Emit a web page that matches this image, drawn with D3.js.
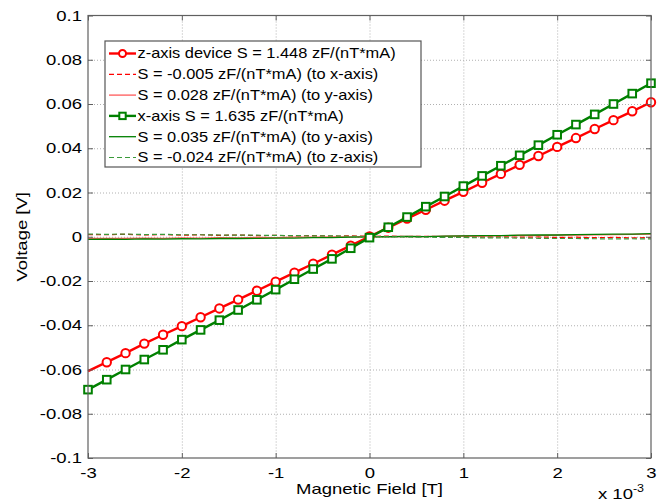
<!DOCTYPE html>
<html>
<head>
<meta charset="utf-8">
<script src="https://cdn.jsdelivr.net/npm/d3@7"></script>
<style>
  body { margin: 0; background: #fff; }
  text { font-family: "Liberation Sans", Arial, sans-serif; fill: #000;
         transform-box: fill-box; transform-origin: center; }
  .tk { font-size: 18.5px; transform: scaleY(0.8); }
  .lg { font-size: 16.4px; transform: scaleY(0.86); }
</style>
</head>
<body>
<svg width="665" height="504"></svg>
<script>
// field values, x 10^-3 T
var field = [-3, -2.8, -2.6, -2.4, -2.2, -2, -1.8, -1.6, -1.4, -1.2, -1, -0.8, -0.6, -0.4, -0.2,
             0, 0.2, 0.4, 0.6, 0.8, 1, 1.2, 1.4, 1.6, 1.8, 2, 2.2, 2.4, 2.6, 2.8, 3];

// z-axis device (red circles), voltage [V]
var zDevice = [-0.0607, -0.0567, -0.0526, -0.0483, -0.0443, -0.0404, -0.0364, -0.0324, -0.0284, -0.0244, -0.0203,
               -0.0162, -0.0122, -0.0081, -0.0040, 0.0001, 0.0041, 0.0082, 0.0122, 0.0163, 0.0203, 0.0244,
               0.0284, 0.0325, 0.0365, 0.0406, 0.0446, 0.0487, 0.0527, 0.0567, 0.0608];
// crosstalk of z device
var zToX = [0.0010, 0.0009, 0.0011, 0.0008, 0.0010, 0.0007, 0.0009, 0.0006, 0.0008, 0.0005, 0.0006, 0.0004, 0.0005, 0.0003,
            0.0004, 0.0002, 0.0003, 0.0001, 0.0002, 0.0000, 0.0001, -0.0001, 0.0000, -0.0002, -0.0001, -0.0003, -0.0002,
            -0.0004, -0.0003, -0.0005, -0.0004];
var zToY = [-0.0008, -0.0007, -0.0008, -0.0006, -0.0007, -0.0005, -0.0006, -0.0004, -0.0005, -0.0003, -0.0004, -0.0002,
            -0.0002, -0.0001, -0.0001, 0.0000, 0.0001, 0.0002, 0.0001, 0.0003, 0.0004, 0.0003, 0.0005, 0.0006, 0.0005,
            0.0007, 0.0008, 0.0009, 0.0010, 0.0011, 0.0012];

// x-axis device (green squares)
var xDevice = [-0.0691, -0.0646, -0.0600, -0.0555, -0.0511, -0.0465, -0.0421, -0.0377, -0.0331, -0.0285, -0.0239,
               -0.0192, -0.0146, -0.0100, -0.0052, -0.0004, 0.0043, 0.0089, 0.0136, 0.0182, 0.0229, 0.0275,
               0.0321, 0.0368, 0.0414, 0.0461, 0.0507, 0.0553, 0.0600, 0.0647, 0.0694];
var xToY = [-0.0012, -0.0011, -0.0012, -0.0010, -0.0011, -0.0009, -0.0010, -0.0008, -0.0008, -0.0007, -0.0006, -0.0006,
            -0.0004, -0.0004, -0.0002, -0.0001, 0.0000, 0.0002, 0.0001, 0.0003, 0.0004, 0.0005, 0.0005, 0.0007, 0.0008,
            0.0008, 0.0010, 0.0011, 0.0012, 0.0012, 0.0014];
var xToZ = [0.0012, 0.0011, 0.0012, 0.0010, 0.0011, 0.0009, 0.0009, 0.0008, 0.0007, 0.0007, 0.0006, 0.0005, 0.0004,
            0.0004, 0.0002, 0.0001, 0.0000, -0.0001, -0.0002, -0.0003, -0.0003, -0.0005, -0.0005, -0.0006, -0.0007,
            -0.0008, -0.0008, -0.0009, -0.0010, -0.0009, -0.0010];

var xTicks = [-3, -2, -1, 0, 1, 2, 3];
var xTickLabels = ["-3", "-2", "-1", "0", "1", "2", "3"];
var yTicks = [-0.1, -0.08, -0.06, -0.04, -0.02, 0, 0.02, 0.04, 0.06, 0.08, 0.1];
var yTickLabels = ["-0.1", "-0.08", "-0.06", "-0.04", "-0.02", "0", "0.02", "0.04", "0.06", "0.08", "0.1"];

var legendLabels = ["z-axis device S = 1.448 zF/(nT*mA)",
                    "S = -0.005 zF/(nT*mA) (to x-axis)",
                    "S = 0.028 zF/(nT*mA) (to y-axis)",
                    "x-axis S = 1.635 zF/(nT*mA)",
                    "S = 0.035 zF/(nT*mA) (to y-axis)",
                    "S = -0.024 zF/(nT*mA) (to z-axis)"];

var svg = d3.select("svg"),
    margin = {top: 15.5, right: 14, bottom: 46, left: 88},
    width = 665 - margin.left - margin.right,
    height = 504 - margin.top - margin.bottom,
    g = svg.append("g").attr("transform", "translate(" + margin.left + "," + margin.top + ")");

var x = d3.scaleLinear().domain([-3, 3]).range([0, width]),
    y = d3.scaleLinear().domain([-0.1, 0.1]).range([height, 0]);

// grid (dotted)
g.append("g").selectAll("line").data(xTicks.slice(1, -1)).enter().append("line")
  .attr("x1", function(d){ return x(d) + 0.5; }).attr("x2", function(d){ return x(d) + 0.5; })
  .attr("y1", 0).attr("y2", height)
  .attr("stroke", "#b0b0b0").attr("stroke-dasharray", "1,2");
g.append("g").selectAll("line").data(yTicks.slice(1, -1)).enter().append("line")
  .attr("y1", function(d){ return y(d) + 0.5; }).attr("y2", function(d){ return y(d) + 0.5; })
  .attr("x1", 0).attr("x2", width)
  .attr("stroke", "#b0b0b0").attr("stroke-dasharray", "1,2");

// series: values, color, width, dash, marker
var series = [
  {v: zDevice, c: "#ff0000", w: 2.4, dash: null, m: "circle"},
  {v: zToX, c: "#ff0000", w: 1.2, dash: "5,3", m: null},
  {v: zToY, c: "#ff5a5a", w: 1.3, dash: null, m: null},
  {v: xDevice, c: "#008000", w: 2.4, dash: null, m: "square"},
  {v: xToY, c: "#008000", w: 1.3, dash: null, m: null},
  {v: xToZ, c: "#3a9a3a", w: 1.2, dash: "5,3", m: null}
];

var line = d3.line()
  .x(function(d, i){ return x(field[i]); })
  .y(function(d){ return y(d); });

// thin crosstalk lines first, then device lines
[1, 2, 4, 5, 0, 3].forEach(function(k) {
  var s = series[k];
  g.append("path")
    .attr("d", line(s.v))
    .attr("fill", "none")
    .attr("stroke", s.c)
    .attr("stroke-width", s.w)
    .attr("stroke-dasharray", s.dash);
  if (s.m == "circle") {
    // first point has no visible marker in the original
    g.append("g").selectAll("circle").data(s.v.slice(1)).enter().append("circle")
      .attr("cx", function(d, i){ return x(field[i + 1]); })
      .attr("cy", function(d){ return y(d); })
      .attr("r", 4.2)
      .attr("fill", "#fff").attr("stroke", s.c).attr("stroke-width", 2);
  } else if (s.m == "square") {
    g.append("g").selectAll("rect").data(s.v).enter().append("rect")
      .attr("x", function(d, i){ return x(field[i]) - 3.8; })
      .attr("y", function(d){ return y(d) - 3.8; })
      .attr("width", 7.6).attr("height", 7.6)
      .attr("fill", "#fff").attr("stroke", s.c).attr("stroke-width", 2);
  }
});

// axes, ticks inside on all four sides
var axColor = "#606060";
function styleAxis(sel) {
  sel.select(".domain").remove();
  sel.selectAll(".tick line").attr("stroke", axColor);
  sel.selectAll(".tick text").attr("class", "tk").attr("fill", "#000");
}
g.append("g").attr("transform", "translate(0," + height + ")")
  .call(d3.axisBottom(x).tickValues(xTicks).tickSize(-5).tickPadding(8)
    .tickFormat(function(d, i){ return xTickLabels[i]; }))
  .call(styleAxis).attr("font-family", null).attr("font-size", null);
g.append("g")
  .call(d3.axisTop(x).tickValues(xTicks).tickSize(-5).tickFormat(""))
  .call(styleAxis);
g.append("g")
  .call(d3.axisLeft(y).tickValues(yTicks).tickSize(-5).tickPadding(6)
    .tickFormat(function(d, i){ return yTickLabels[i]; }))
  .call(styleAxis).attr("font-family", null).attr("font-size", null);
g.append("g").attr("transform", "translate(" + width + ",0)")
  .call(d3.axisRight(y).tickValues(yTicks).tickSize(-5).tickFormat(""))
  .call(styleAxis);

g.append("rect").attr("x", 0).attr("y", 0).attr("width", width).attr("height", height)
  .attr("fill", "none").attr("stroke", axColor).attr("stroke-width", 1.2);

// axis labels
g.append("text").attr("class", "tk")
  .attr("x", width / 2).attr("y", height + 37)
  .attr("text-anchor", "middle").text("Magnetic Field [T]");
svg.append("g").attr("transform", "translate(28," + (margin.top + height / 2) + ") rotate(-90)")
  .append("text").attr("class", "tk")
  .attr("text-anchor", "middle").text("Voltage [V]");
var ex = svg.append("text").attr("class", "tk").attr("x", 598).attr("y", 501);
ex.append("tspan").text("x 10");
ex.append("tspan").attr("dy", -9).attr("font-size", "12.5px").text("-3");

// legend
var lx = 105, ly = 41, lw = 316, lh = 126, rowH = 20.8;
var leg = svg.append("g");
leg.append("rect").attr("x", lx).attr("y", ly).attr("width", lw).attr("height", lh)
  .attr("fill", "#fff").attr("stroke", "#555").attr("stroke-width", 1.2);
var rows = leg.selectAll(".row").data(series).enter().append("g")
  .attr("transform", function(d, i){ return "translate(" + lx + "," + (ly + 12.5 + i * rowH) + ")"; });
rows.append("line").attr("x1", 4).attr("x2", 31).attr("y1", 0).attr("y2", 0)
  .attr("stroke", function(d){ return d.c; })
  .attr("stroke-width", function(d){ return d.w; })
  .attr("stroke-dasharray", function(d){ return d.dash; });
rows.filter(function(d){ return d.m == "circle"; }).append("circle")
  .attr("cx", 17.5).attr("cy", 0).attr("r", 3.5)
  .attr("fill", "#fff").attr("stroke", function(d){ return d.c; }).attr("stroke-width", 2);
rows.filter(function(d){ return d.m == "square"; }).append("rect")
  .attr("x", 14.3).attr("y", -3.2).attr("width", 6.4).attr("height", 6.4)
  .attr("fill", "#fff").attr("stroke", function(d){ return d.c; }).attr("stroke-width", 2);
rows.append("text").attr("class", "lg")
  .attr("x", 32.5).attr("y", 5.8)
  .text(function(d, i){ return legendLabels[i]; });
</script>
</body>
</html>
